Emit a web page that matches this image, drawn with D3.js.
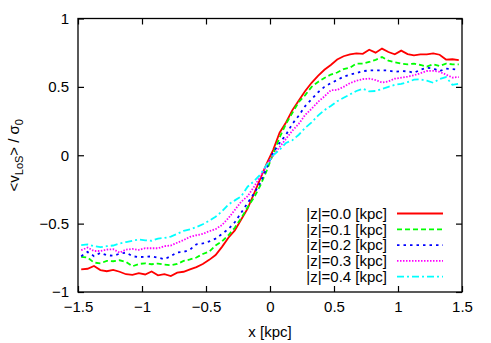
<!DOCTYPE html>
<html>
<head>
<meta charset="utf-8">
<script src="https://cdn.jsdelivr.net/npm/d3@7"></script>
<style>
  body { margin: 0; background: #fff; }
  text { font-family: "Liberation Sans", Arial, sans-serif; fill: #000; }
</style>
</head>
<body>
<svg id="chart" width="491" height="343"></svg>
<script>
// sampling positions along x [kpc]
const xs = [-1.475, -1.425, -1.375, -1.325, -1.275, -1.225, -1.175, -1.125, -1.075, -1.025,
  -0.975, -0.925, -0.875, -0.825, -0.775, -0.725, -0.675, -0.625, -0.575, -0.525,
  -0.475, -0.425, -0.375, -0.325, -0.275, -0.225, -0.175, -0.125, -0.075, -0.025,
  0.025, 0.075, 0.125, 0.175, 0.225, 0.275, 0.325, 0.375, 0.425, 0.475,
  0.525, 0.575, 0.625, 0.675, 0.725, 0.775, 0.825, 0.875, 0.925, 0.975,
  1.025, 1.075, 1.125, 1.175, 1.225, 1.275, 1.325, 1.375, 1.425, 1.475];

const z00 = [-0.835, -0.83, -0.81, -0.84, -0.848, -0.838, -0.852, -0.87, -0.875, -0.862,
  -0.872, -0.85, -0.878, -0.87, -0.883, -0.858, -0.852, -0.834, -0.818, -0.795,
  -0.765, -0.73, -0.67, -0.603, -0.55, -0.47, -0.39, -0.28, -0.17, -0.06,
  0.04, 0.165, 0.24, 0.33, 0.40, 0.47, 0.53, 0.58, 0.625, 0.66,
  0.7, 0.724, 0.738, 0.745, 0.742, 0.772, 0.75, 0.78, 0.755, 0.738,
  0.765, 0.74, 0.73, 0.737, 0.738, 0.745, 0.735, 0.7, 0.702, 0.695];

const z01 = [-0.743, -0.748, -0.785, -0.79, -0.772, -0.775, -0.768, -0.78, -0.812, -0.795,
  -0.79, -0.797, -0.792, -0.8, -0.805, -0.795, -0.773, -0.762, -0.748, -0.722,
  -0.705, -0.66, -0.63, -0.585, -0.53, -0.46, -0.38, -0.31, -0.22, -0.11,
  0.01, 0.13, 0.23, 0.31, 0.39, 0.44, 0.5, 0.536, 0.565, 0.59,
  0.605, 0.63, 0.64, 0.67, 0.67, 0.682, 0.698, 0.718, 0.692, 0.68,
  0.67, 0.665, 0.67, 0.66, 0.648, 0.665, 0.652, 0.67, 0.665, 0.665];

const z02 = [-0.738, -0.707, -0.738, -0.714, -0.731, -0.735, -0.72, -0.712, -0.738, -0.745,
  -0.742, -0.74, -0.748, -0.76, -0.738, -0.71, -0.707, -0.69, -0.651, -0.645,
  -0.63, -0.61, -0.575, -0.54, -0.49, -0.42, -0.35, -0.28, -0.2, -0.09,
  0.02, 0.09, 0.15, 0.23, 0.29, 0.36, 0.41, 0.46, 0.5, 0.527,
  0.55, 0.575, 0.59, 0.6, 0.615, 0.62, 0.62, 0.62, 0.62, 0.61,
  0.615, 0.614, 0.603, 0.625, 0.64, 0.635, 0.615, 0.634, 0.63, 0.626];

const z03 = [-0.694, -0.675, -0.7, -0.7, -0.69, -0.687, -0.712, -0.69, -0.685, -0.692,
  -0.68, -0.68, -0.68, -0.665, -0.66, -0.64, -0.62, -0.597, -0.585, -0.575,
  -0.555, -0.54, -0.51, -0.46, -0.4, -0.34, -0.3, -0.23, -0.155, -0.07,
  0.0, 0.06, 0.12, 0.18, 0.23, 0.295, 0.34, 0.39, 0.43, 0.475,
  0.478, 0.5, 0.527, 0.545, 0.557, 0.56, 0.55, 0.532, 0.54, 0.56,
  0.567, 0.575, 0.585, 0.6, 0.616, 0.617, 0.61, 0.59, 0.568, 0.572];

const z04 = [-0.658, -0.652, -0.665, -0.672, -0.665, -0.66, -0.645, -0.635, -0.625, -0.616,
  -0.622, -0.625, -0.609, -0.605, -0.595, -0.575, -0.553, -0.543, -0.525, -0.505,
  -0.478, -0.45, -0.41, -0.36, -0.33, -0.3, -0.23, -0.19, -0.14, -0.07,
  0.0, 0.04, 0.09, 0.11, 0.15, 0.2, 0.24, 0.29, 0.33, 0.36,
  0.395, 0.42, 0.445, 0.47, 0.487, 0.467, 0.47, 0.485, 0.5, 0.515,
  0.522, 0.535, 0.553, 0.555, 0.545, 0.53, 0.558, 0.572, 0.515, 0.522];

const labelsZ = ["|z|=0.0 [kpc]", "|z|=0.1 [kpc]", "|z|=0.2 [kpc]", "|z|=0.3 [kpc]", "|z|=0.4 [kpc]"];
const xTicks = [-1.5, -1, -0.5, 0, 0.5, 1, 1.5];
const yTicks = [-1, -0.5, 0, 0.5, 1];

const series = [
  { name: labelsZ[0], values: z00, color: "#ff0000", dash: null },
  { name: labelsZ[1], values: z01, color: "#00ff00", dash: "5,3" },
  { name: labelsZ[2], values: z02, color: "#0000ff", dash: "2.5,4" },
  { name: labelsZ[3], values: z03, color: "#ff00ff", dash: "1.5,1.5" },
  { name: labelsZ[4], values: z04, color: "#00ffff", dash: "7,3,2,3" }
];

const svg = d3.select("#chart");
const margin = { top: 18.5, right: 29, bottom: 51, left: 78 };
const width = 491, height = 343;

const x = d3.scaleLinear().domain([-1.5, 1.5]).range([margin.left, width - margin.right]);
const y = d3.scaleLinear().domain([-1, 1]).range([height - margin.bottom, margin.top]);

const line = d3.line().x((d, i) => x(xs[i])).y(d => y(d));

const plot = svg.append("g");
series.forEach(s => {
  plot.append("path")
    .datum(s.values)
    .attr("fill", "none")
    .attr("stroke", s.color)
    .attr("stroke-width", 1.8)
    .attr("stroke-dasharray", s.dash)
    .attr("d", line);
});

// axes: ticks inward on all four sides
const tickLen = 6;
const axisStyle = g => {
  g.select(".domain").remove();
  g.selectAll(".tick line").attr("stroke", "#000").attr("stroke-width", 1.2);
  g.selectAll(".tick text").attr("font-size", 15).attr("font-family", "Liberation Sans, Arial, sans-serif");
};

svg.append("g")
  .attr("transform", `translate(0,${y(-1)})`)
  .call(d3.axisBottom(x).tickValues(xTicks).tickSize(-tickLen).tickPadding(6).tickFormat(d3.format("")))
  .call(axisStyle)
  .call(g => g.selectAll(".tick text").attr("dy", "0.9em"));

svg.append("g")
  .attr("transform", `translate(0,${y(1)})`)
  .call(d3.axisTop(x).tickValues(xTicks).tickSize(-tickLen).tickFormat(""))
  .call(axisStyle);

svg.append("g")
  .attr("transform", `translate(${x(-1.5)},0)`)
  .call(d3.axisLeft(y).tickValues(yTicks).tickSize(-tickLen).tickPadding(9).tickFormat(d3.format("")))
  .call(axisStyle);

svg.append("g")
  .attr("transform", `translate(${x(1.5)},0)`)
  .call(d3.axisRight(y).tickValues(yTicks).tickSize(-tickLen).tickFormat(""))
  .call(axisStyle);

svg.append("rect")
  .attr("x", x(-1.5)).attr("y", y(1))
  .attr("width", x(1.5) - x(-1.5)).attr("height", y(-1) - y(1))
  .attr("fill", "none").attr("stroke", "#000").attr("stroke-width", 1.3);

// axis titles
svg.append("text")
  .attr("x", x(0)).attr("y", 337)
  .attr("text-anchor", "middle").attr("font-size", 15)
  .text("x [kpc]");

const yl = svg.append("text")
  .attr("transform", `translate(19,${y(0)}) rotate(-90)`)
  .attr("text-anchor", "middle").attr("font-size", 15);
yl.append("tspan").text("<v");
yl.append("tspan").attr("font-size", 11).attr("dy", 4).text("LoS");
yl.append("tspan").attr("dy", -4).text("> / σ");
yl.append("tspan").attr("font-size", 11).attr("dy", 4).text("0");

// legend
const legend = svg.append("g");
series.forEach((s, i) => {
  const ly = 213.5 + i * 15.8;
  legend.append("text")
    .attr("x", 387).attr("y", ly).attr("dy", "0.35em")
    .attr("text-anchor", "end").attr("font-size", 15)
    .text(s.name);
  legend.append("line")
    .attr("x1", 397).attr("x2", 443).attr("y1", ly).attr("y2", ly)
    .attr("stroke", s.color).attr("stroke-width", 1.8)
    .attr("stroke-dasharray", s.dash);
});
</script>
</body>
</html>
